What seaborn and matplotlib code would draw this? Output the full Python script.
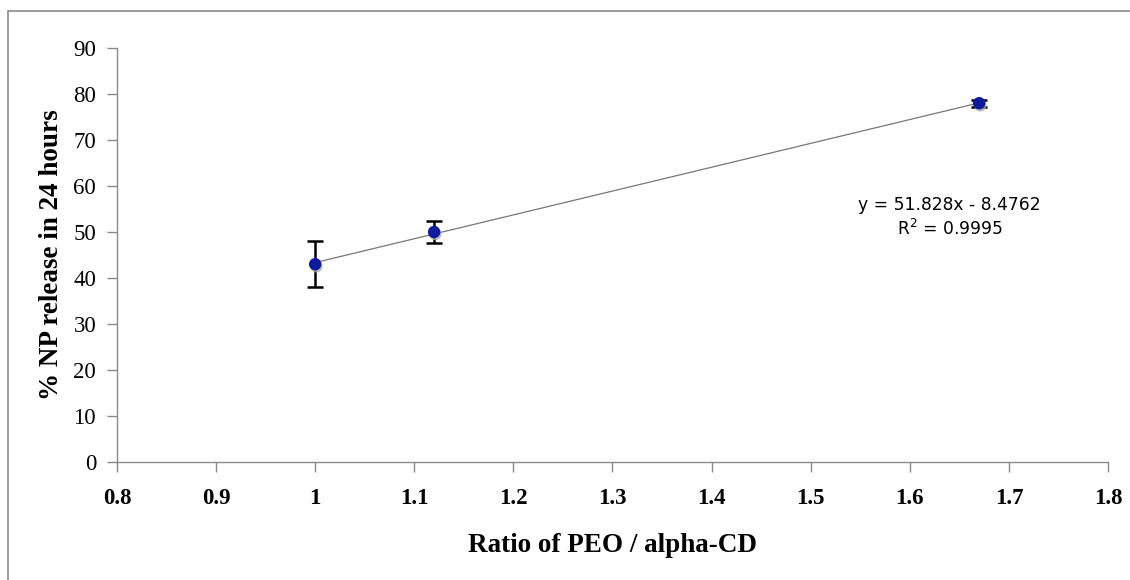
import matplotlib
matplotlib.use("Agg")
import matplotlib.pyplot as plt
import matplotlib.patches as mpatches
import matplotlib.patheffects as pe
import seaborn as sns
import numpy as np
import pandas as pd

# Data
ratio = [1.0, 1.12, 1.67]
release = [43.0, 50.0, 78.0]
err = [5.0, 2.3, 0.8]
slope = 51.828
intercept = -8.4762
r2 = 0.9995
trend_x = [1.0, 1.67]
x_ticks = [0.8, 0.9, 1.0, 1.1, 1.2, 1.3, 1.4, 1.5, 1.6, 1.7, 1.8]
x_tick_labels = ["0.8", "0.9", "1", "1.1", "1.2", "1.3", "1.4", "1.5", "1.6", "1.7", "1.8"]
y_ticks = [0, 10, 20, 30, 40, 50, 60, 70, 80, 90]

sns.set_theme(style="white")
plt.rcParams['font.family'] = ['Liberation Serif', 'DejaVu Serif']
plt.rcParams['text.color'] = 'black'
plt.rcParams['axes.labelcolor'] = 'black'
plt.rcParams['xtick.labelcolor'] = 'black'
plt.rcParams['ytick.labelcolor'] = 'black'

fig = plt.figure(figsize=(11.3, 5.8), dpi=100)
ax = fig.add_axes([117/1130, 1-462/580, (1108-117)/1130, (462-48)/580])

# outer border (only top & left visible)
fig.patches.append(mpatches.Rectangle((8/1130, -0.1), 1.2, 1 - 11/580 + 0.1,
                                      transform=fig.transFigure, fill=False,
                                      edgecolor="#8a8a8a", linewidth=1.2, zorder=0))

df = pd.DataFrame({"ratio": ratio, "release": release})
tdf = pd.DataFrame({"x": trend_x, "y": [slope * v + intercept for v in trend_x]})

sns.lineplot(data=tdf, x="x", y="y", ax=ax, color="#777777", linewidth=0.9, zorder=2)
ax.errorbar(ratio, release, yerr=err, fmt="none", ecolor="black", elinewidth=1.8,
            capsize=5.5, capthick=1.8, zorder=3)
sns.scatterplot(data=df, x="ratio", y="release", ax=ax, color="#0d1a9e", s=80,
                edgecolor="#0d1a9e", linewidth=0, zorder=4,
                path_effects=[pe.SimplePatchShadow(offset=(0.8, -1.5), shadow_rgbFace="#aaaaaa", alpha=0.8), pe.Normal()])

ax.set_xlim(0.8, 1.8)
ax.set_ylim(0, 90)
ax.set_xticks(x_ticks)
ax.set_xticklabels(x_tick_labels, fontweight="bold", fontsize=16.5, color="black")
ax.set_yticks(y_ticks)
ax.tick_params(axis="y", labelsize=16.5, labelcolor="black")

for s in ["top", "right"]:
    ax.spines[s].set_visible(False)
for s in ["left", "bottom"]:
    ax.spines[s].set_color("#8a8a8a")
    ax.spines[s].set_linewidth(1.0)
ax.tick_params(axis="both", which="major", direction="out", length=7, width=1.0,
               color="#8a8a8a", left=True, bottom=True)
ax.tick_params(axis="x", pad=12)
ax.tick_params(axis="y", pad=8)

ax.set_xlabel("Ratio of PEO / alpha-CD", fontweight="bold", fontsize=19.5, labelpad=17, color="black")
ax.set_ylabel("% NP release in 24 hours", fontweight="bold", fontsize=19.5, labelpad=7, color="black")

ax.text(1.64, 53.2, f"y = {slope}x - {abs(intercept)}\nR$^2$ = {r2}", ha="center", va="center",
        fontsize=12.3, family=["DejaVu Sans"], linespacing=1.3, color="black")

fig.savefig("out.png", dpi=100)
